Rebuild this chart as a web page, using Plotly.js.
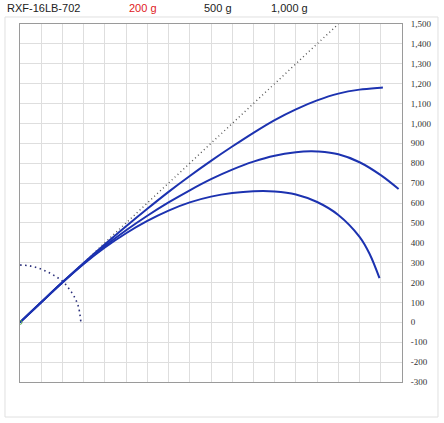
<!DOCTYPE html>
<html>
<head>
<meta charset="utf-8">
<script src="https://cdn.plot.ly/plotly-3.0.1.min.js"></script>
<style>
  html, body { margin: 0; padding: 0; background: #fff; }
  #chart { width: 444px; height: 423px; }
</style>
</head>
<body>
<div id="chart"></div>
<script>
// 1,000 g curve
var x1000 = [0, 1, 2, 3, 4, 5, 6, 7, 8, 9, 10, 11, 12, 13, 14, 15, 16, 17, 17.1];
var y1000 = [0, 101, 201, 298, 392, 483, 571, 656, 736, 812, 884, 953, 1017, 1071, 1116, 1150, 1170, 1180, 1181];
// 500 g curve
var x500 = [0, 1, 2, 3, 4, 5, 6, 7, 8, 9, 10, 11, 12, 13, 13.7, 14, 15, 16, 17, 17.84];
var y500 = [0, 101, 201, 296, 383, 463, 536, 603, 664, 720, 768, 808, 838, 855, 860, 859, 845, 805, 740, 670];
// 200 g curve
var x200 = [0, 1, 2, 3, 4, 5, 6, 7, 8, 9, 10, 11, 12, 13, 14, 15, 16, 16.47, 16.94];
var y200 = [0, 101, 200, 293, 376, 448, 510, 562, 603, 632, 650, 659, 658, 643, 605, 540, 430, 345, 222];
// straight reference line
var xLine = [0, 15];
var yLine = [0, 1500];
// dotted quarter arc near origin
var xArc = [0, 0.4, 0.8, 1.2, 1.6, 2.0, 2.3, 2.55, 2.75, 2.87];
var yArc = [288, 285, 275, 258, 236, 207, 170, 130, 80, 0];

var yTicks = [-300, -200, -100, 0, 100, 200, 300, 400, 500, 600, 700, 800, 900, 1000, 1100, 1200, 1300, 1400, 1500];
var yTickText = ['-300', '-200', '-100', '0', '100', '200', '300', '400', '500', '600', '700', '800', '900',
  '1,000', '1,100', '1,200', '1,300', '1,400', '1,500'];

var headTexts = ['RXF-16LB-702', '200 g', '500 g', '1,000 g'];
var headColors = ['#222222', '#e0201c', '#222222', '#222222'];
var headX = [-0.0393, 0.2801, 0.4764, 0.6518];

var blue = '#1c32b0';

var data = [
  {x: xLine, y: yLine, type: 'scatter', mode: 'lines',
   line: {color: '#555555', width: 1.4, dash: '1px,3px'}},
  {x: xArc, y: yArc, type: 'scatter', mode: 'lines',
   line: {shape: 'spline', color: '#2a2f7a', width: 1.6, dash: '1.5px,3.5px'}},
  {x: x200, y: y200, type: 'scatter', mode: 'lines', line: {shape: 'spline', color: blue, width: 2}},
  {x: x500, y: y500, type: 'scatter', mode: 'lines', line: {shape: 'spline', color: blue, width: 2}},
  {x: x1000, y: y1000, type: 'scatter', mode: 'lines', line: {shape: 'spline', color: blue, width: 2}},
  {x: [0], y: [0], type: 'scatter', mode: 'markers',
   marker: {symbol: 'circle-open', size: 4, color: '#55aa55', line: {width: 1}}}
];

var annotations = headTexts.map(function (t, i) {
  return {text: t, xref: 'paper', yref: 'paper', x: headX[i], y: 1.0447,
    xanchor: 'left', yanchor: 'middle', showarrow: false,
    font: {family: 'Liberation Sans, Arial, sans-serif', size: 11, color: headColors[i]}};
});

var layout = {
  width: 444, height: 423,
  margin: {l: 20, r: 42, t: 24, b: 41},
  paper_bgcolor: '#ffffff', plot_bgcolor: '#ffffff',
  showlegend: false,
  xaxis: {range: [0, 18], dtick: 1, showticklabels: false, showgrid: true,
    gridcolor: '#dedede', gridwidth: 1, zeroline: false,
    showline: true, linecolor: '#9a9a9a', linewidth: 1, mirror: true, ticks: ''},
  xaxis2: {range: [0, 18], dtick: 1, overlaying: 'x', anchor: 'free', position: 1 / 6,
    showticklabels: false, showgrid: false, zeroline: false,
    showline: true, linecolor: '#a8a8a8', linewidth: 1, ticks: 'outside', ticklen: 3, tickcolor: '#a8a8a8'},
  yaxis: {range: [-300, 1500], side: 'right', tickvals: yTicks, ticktext: yTickText,
    showgrid: true, gridcolor: '#dedede', gridwidth: 1, zeroline: false,
    showline: true, linecolor: '#9a9a9a', linewidth: 1, mirror: true, ticks: '',
    ticklabelstandoff: 6,
    tickfont: {family: 'Liberation Serif, Times New Roman, serif', size: 9, color: '#333333'}},
  annotations: annotations,
  shapes: [{type: 'rect', xref: 'paper', yref: 'paper', x0: -0.0393, x1: 1.0942, y0: -0.0978, y1: 1.0196,
    line: {color: '#e0e0e0', width: 1}, layer: 'below'}]
};

Plotly.newPlot('chart', data, layout, {displayModeBar: false, staticPlot: true});
</script>
</body>
</html>
